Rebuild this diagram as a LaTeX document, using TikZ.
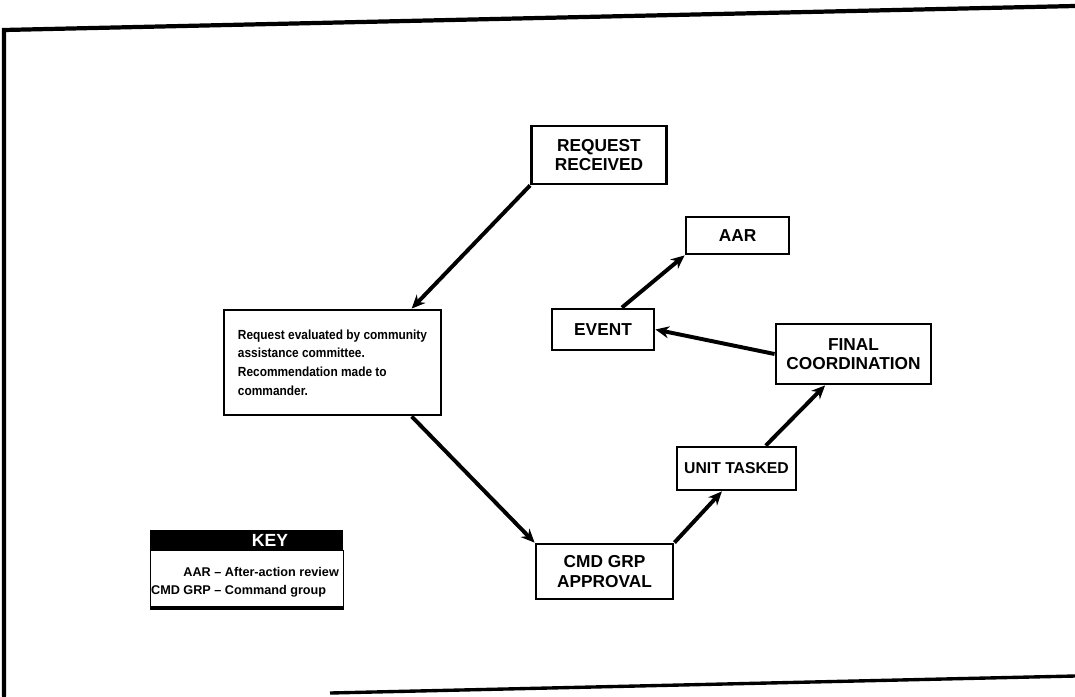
\documentclass[tikz,border=0pt]{standalone}
\usepackage{fontspec}
\setmainfont{Liberation Sans}
\newfontfamily\evalfont[FakeStretch=0.9]{Liberation Sans}
\usetikzlibrary{arrows.meta,calc}
\tikzset{
  stagebox/.style={draw, line width=2pt, align=center, inner sep=0pt,
    font=\bfseries\fontsize{12.3}{13.6}\selectfont},
  notebox/.style={draw, line width=2pt, align=left, inner sep=0pt,
    font=\evalfont\bfseries\fontsize{9.4}{13.2}\selectfont},
  flowarr/.style={-{Stealth[length=0.34cm, width=0.3cm]}, line width=2.8pt},
  framerule/.style={line width=3pt, line cap=round},
  keytxt/.style={font=\bfseries\fontsize{9}{12.8}\selectfont, inner sep=0pt},
}
\begin{document}
\begin{tikzpicture}[x=0.025cm, y=-0.025cm]
  \useasboundingbox (0,0) rectangle (1075,696);
  % page frame
  \draw[framerule] (1075,6) -- (4,30) -- (4,696);
  \draw[line width=2.4pt] (330,693) -- (1075,676);
  % steps
  \node[stagebox, minimum width=3.375cm, minimum height=1.45cm] (req) at (599,155) {REQUEST\\RECEIVED};
  \node[notebox, minimum width=5.425cm, minimum height=2.625cm] (eval) at (332.5,362.5)
    {Request evaluated by community\\assistance committee.\\Recommendation made to\\commander.};
  \node[stagebox, minimum width=3.425cm, minimum height=1.375cm] (cmd) at (604.5,571.5) {CMD GRP\\APPROVAL};
  \node[stagebox, minimum width=2.975cm, minimum height=1.075cm, font=\bfseries\fontsize{11.2}{13}\selectfont] (unit) at (736.5,468.5) {UNIT TASKED};
  \node[stagebox, minimum width=3.875cm, minimum height=1.5cm] (final) at (853.5,354) {FINAL\\COORDINATION};
  \node[stagebox, minimum width=2.55cm, minimum height=1.025cm] (event) at (603,329.5) {EVENT};
  \node[stagebox, minimum width=2.575cm, minimum height=0.925cm] (aar) at (737.5,235.5) {AAR};
  % flow
  \draw[flowarr] (req.south west) -- ($(eval.north west)!0.86!(eval.north east)$);
  \draw[flowarr] ($(eval.south west)!0.86!(eval.south east)$) -- (cmd.north west);
  \draw[flowarr] (cmd.north east) -- ($(unit.south west)!0.38!(unit.south east)$);
  \draw[flowarr] ($(unit.north west)!0.74!(unit.north east)$) -- ($(final.south west)!0.32!(final.south east)$);
  \draw[flowarr] (final.west) -- (event.east);
  \draw[flowarr] ($(event.north west)!0.68!(event.north east)$) -- (aar.south west);
  % key
  \node[fill=black, minimum width=4.825cm, minimum height=0.5cm, inner sep=0pt, anchor=north west] (keybar) at (150,530) {};
  \node[text=white, font=\bfseries\fontsize{12.5}{14}\selectfont, inner sep=0pt] (keytitle) at (270,540) {KEY};
  \node[draw, line width=0.8pt, minimum width=4.825cm, minimum height=1.425cm, anchor=north west, inner sep=0pt] (keybody) at (150,550) {};
  \node[keytxt] (keydefs) at (245,582)
    {\begin{tabular}{@{}r@{ \textendash\ }l@{}}AAR & After-action review\\CMD GRP & Command group\end{tabular}};
  \draw[line width=2.5pt] (keybody.south west) -- (keybody.south east);
\end{tikzpicture}
\end{document}
